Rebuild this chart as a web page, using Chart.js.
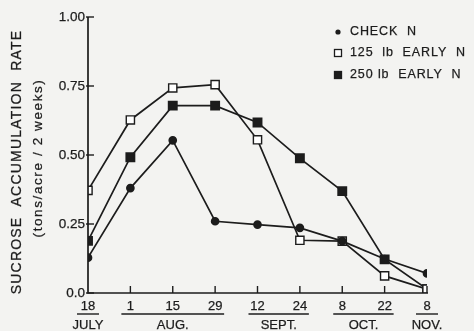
<!DOCTYPE html>
<html><head><meta charset="utf-8">
<script src="https://cdn.jsdelivr.net/npm/chart.js@4/dist/chart.umd.min.js"></script>
<style>html,body{margin:0;padding:0;background:#f3f3f1;}#wrap{width:474px;height:331px;}</style>
</head><body><div id="wrap"><canvas id="c" width="474" height="331"></canvas></div>
<script>
const dayLabels = ["18","1","15","29","12","24","8","22","8"];
const monthGroups = [
  {name:"JULY", from:0, to:0},
  {name:"AUG.", from:1, to:3},
  {name:"SEPT.", from:4, to:5},
  {name:"OCT.", from:6, to:7},
  {name:"NOV.", from:8, to:8}
];
const checkN = [0.128,0.38,0.553,0.26,0.248,0.236,0.188,0.123,0.071];
const early125 = [0.372,0.627,0.743,0.755,0.555,0.191,0.188,0.062,0.014];
const early250 = [0.189,0.492,0.679,0.679,0.618,0.488,0.369,0.122,0.014];
const yTicks = [0,0.25,0.5,0.75,1.0];
const yTickLabels = ["0.0","0.25","0.50","0.75","1.00"];
const seriesNames = ["CHECK  N","125  lb  EARLY  N","250 lb  EARLY  N"];
const yTitle = "SUCROSE  ACCUMULATION  RATE";
const ySubTitle = "(tons/acre / 2 weeks)";

const INK = "#1c1c1c";
const FONT = "'Liberation Sans', Arial, sans-serif";

function pts(arr){ return arr.map((v,i)=>({x:i,y:v})); }

function inkText(c, s, x, y){
  c.fillText(s, x, y);
  c.lineWidth = 0.25; c.strokeText(s, x, y);
}

const deco = {
  id:'deco',
  beforeDraw(chart){
    const c = chart.ctx;
    c.save(); c.fillStyle = "#f3f3f1"; c.fillRect(0,0,chart.width,chart.height); c.restore();
  },
  afterDraw(chart){
    const c = chart.ctx, xs = chart.scales.x, ys = chart.scales.y;
    const area = chart.chartArea;
    c.save();
    c.strokeStyle = INK; c.fillStyle = INK; c.lineWidth = 1.7;
    // axes
    c.beginPath();
    c.moveTo(area.left, ys.getPixelForValue(1.0));
    c.lineTo(area.left, ys.getPixelForValue(0));
    c.lineTo(xs.getPixelForValue(8)+1, ys.getPixelForValue(0));
    c.stroke();
    // y ticks (inside)
    c.lineWidth = 1.4;
    yTicks.forEach(v=>{
      const py = ys.getPixelForValue(v);
      c.beginPath(); c.moveTo(area.left-2, py); c.lineTo(area.left+6, py); c.stroke();
    });
    // x ticks (inside)
    for(let i=1;i<dayLabels.length;i++){
      const px = xs.getPixelForValue(i);
      c.beginPath(); c.moveTo(px, ys.getPixelForValue(0)); c.lineTo(px, ys.getPixelForValue(0)-7); c.stroke();
    }
    // y tick labels
    c.font = "13.5px " + FONT; c.textAlign = "right"; c.textBaseline = "middle";
    yTicks.forEach((v,i)=>{
      inkText(c, yTickLabels[i], area.left-3, ys.getPixelForValue(v));
    });
    // x day labels
    c.textAlign = "center"; c.textBaseline = "middle"; c.font = "13px " + FONT;
    const y0 = ys.getPixelForValue(0);
    dayLabels.forEach((d,i)=>{ inkText(c, d, xs.getPixelForValue(i), y0+13); });
    // month underlines and names
    monthGroups.forEach(g=>{
      const a = xs.getPixelForValue(g.from), b = xs.getPixelForValue(g.to);
      const pad = (g.from===g.to) ? 11 : 9;
      c.lineWidth = 1.4;
      c.beginPath(); c.moveTo(a-pad, y0+21); c.lineTo(b+pad, y0+21); c.stroke();
      inkText(c, g.name, (a+b)/2, y0+32);
    });
    // y titles
    const cy = (ys.getPixelForValue(0)+ys.getPixelForValue(1))/2;
    c.save(); c.translate(17, cy+7); c.rotate(-Math.PI/2);
    c.font = "14px " + FONT; c.letterSpacing = "1.2px"; c.textAlign="center"; c.textBaseline="middle";
    inkText(c, yTitle, 0, 0);
    c.restore();
    c.save(); c.translate(38, cy+3); c.rotate(-Math.PI/2);
    c.font = "13.5px " + FONT; c.letterSpacing = "1.6px"; c.textAlign="center"; c.textBaseline="middle";
    inkText(c, ySubTitle, 0, 0);
    c.restore();
    // legend
    const rows = [32, 53, 75];
    chart.data.datasets.forEach((ds,i)=>{
      const mx = 338, my = rows[i];
      c.lineWidth = 1.3; c.strokeStyle = INK;
      if(ds.pointStyle==='circle'){
        c.beginPath(); c.arc(mx,my,2.6,0,Math.PI*2); c.fillStyle=INK; c.fill();
      } else {
        c.fillStyle = ds.pointBackgroundColor;
        c.fillRect(mx-3.5,my-3.5,7,7); c.strokeRect(mx-3.5,my-3.5,7,7);
      }
      c.fillStyle = INK; c.font = "12.5px " + FONT; c.letterSpacing = "0.9px";
      c.textAlign="left"; c.textBaseline="middle";
      inkText(c, seriesNames[i], 350, my);
    });
    c.restore();
  }
};

new Chart(document.getElementById('c'), {
  type:'line',
  data:{ datasets:[
    {label:seriesNames[0], data:pts(checkN), borderColor:INK, borderWidth:1.7, pointStyle:'circle', pointRadius:3.5, pointBackgroundColor:INK, pointBorderColor:INK, tension:0},
    {label:seriesNames[1], data:pts(early125), borderColor:INK, borderWidth:1.7, pointStyle:'rect', pointRadius:5.8, pointBackgroundColor:"#ffffff", pointBorderColor:INK, pointBorderWidth:1.4, tension:0},
    {label:seriesNames[2], data:pts(early250), borderColor:INK, borderWidth:1.7, pointStyle:'rect', pointRadius:5.8, pointBackgroundColor:INK, pointBorderColor:INK, tension:0}
  ]},
  options:{
    responsive:false, animation:false, devicePixelRatio:1,
    layout:{padding:{top:17,right:47,bottom:0,left:0}},
    plugins:{legend:{display:false}, tooltip:{enabled:false}},
    scales:{
      x:{type:'linear', min:0, max:8, display:true, grid:{display:false, drawTicks:false}, border:{display:false},
         ticks:{display:false}, afterFit(s){ s.height = 38; }},
      y:{type:'linear', min:0, max:1, display:true, grid:{display:false, drawTicks:false}, border:{display:false},
         ticks:{display:false}, afterFit(s){ s.width = 88; }}
    }
  },
  plugins:[deco]
});
</script></body></html>
